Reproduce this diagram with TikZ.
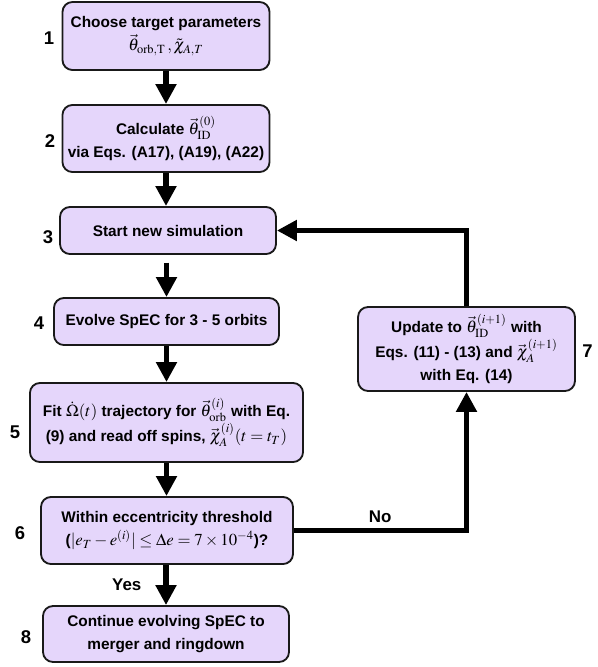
\documentclass[tikz,border=0pt]{standalone}
\usepackage{amsmath,amssymb}
\usepackage{mathptmx}
\usepackage{fontspec}
\setmainfont{Liberation Serif}
\setsansfont{Liberation Sans}
\usepackage{tikz}
\usetikzlibrary{arrows.meta}

\newcommand{\mth}[1]{{\fontsize{10.9}{15}\selectfont$#1$}}
\definecolor{boxfill}{RGB}{229,214,251}
\tikzset{
    stepbox/.style={draw=black!90, line width=1.2pt, fill=boxfill, rounded corners=6.5pt,
        align=center, inner sep=1.5pt, font=\sffamily\bfseries\fontsize{10}{15}\selectfont},
    stepnum/.style={font=\sffamily\bfseries\fontsize{12}{14}\selectfont},
    flow/.style={line width=3.3pt, -{Triangle[length=13pt,width=13pt]}},
    flowlabel/.style={font=\sffamily\bfseries\fontsize{11}{13}\selectfont}
}

\begin{document}
\begin{tikzpicture}[x=0.65pt, y=-0.65pt]
    \useasboundingbox (0,0) rectangle (598,667);

    % steps
    \node[stepbox, minimum width=134.6pt, minimum height=44.2pt] (choose) at (166,36)
        {Choose target parameters\\ \mth{\vec{\theta}_{\mathrm{orb,T}}\,,\tilde{\chi}_{A,T}}};
    \node[stepbox, minimum width=134.6pt, minimum height=43.6pt] (calc) at (166,138.5)
        {Calculate \mth{\vec{\theta}^{(0)}_{\mathrm{ID}}}\\ via Eqs. (A17), (A19), (A22)};
    \node[stepbox, minimum width=140.4pt, minimum height=30.6pt] (start) at (168,230.5)
        {Start new simulation};
    \node[stepbox, minimum width=146.3pt, minimum height=30.6pt] (evolve) at (166.5,321.5)
        {Evolve SpEC for 3 - 5 orbits};
    \node[stepbox, minimum width=177.5pt, minimum height=51.4pt] (fit) at (166.5,422.5)
        {Fit \mth{\dot{\Omega}(t)} trajectory for \mth{\vec{\theta}^{(i)}_{\mathrm{orb}}} with Eq.\\
         (9) and read off spins, \mth{\vec{\chi}^{(i)}_A(t=t_T)}};
    \node[stepbox, minimum width=163.8pt, minimum height=43.6pt] (check) at (167,530.5)
        {Within eccentricity threshold\\ (\mth{|e_T-e^{(i)}|\le\Delta e=7\times10^{-4}})?};
    \node[stepbox, minimum width=159.9pt, minimum height=36.4pt] (merge) at (166,634)
        {Continue evolving SpEC to\\ merger and ringdown};
    \node[stepbox, minimum width=141pt, minimum height=54.6pt] (update) at (466.5,349)
        {Update to \mth{\vec{\theta}^{(i+1)}_{\mathrm{ID}}} with\\
         Eqs. (11) - (13) and \mth{\vec{\chi}^{(i+1)}_A}\\ with Eq. (14)};

    % numbers
    \node[stepnum] (num1) at (49,38) {1};
    \node[stepnum] (num2) at (50,141) {2};
    \node[stepnum] (num3) at (48,237) {3};
    \node[stepnum] (num4) at (39,323) {4};
    \node[stepnum] (num5) at (15,432) {5};
    \node[stepnum] (num6) at (20,533) {6};
    \node[stepnum] (num7) at (587.5,351) {7};
    \node[stepnum] (num8) at (26,637) {8};

    % arrows
    \draw[flow] (choose.south) -- (calc.north);
    \draw[flow] (calc.south) -- (calc.south |- start.north);
    \draw[flow, shorten <=5pt] (start.south -| evolve) -- (evolve.north);
    \draw[flow] (evolve.south) -- (fit.north);
    \draw[flow] (fit.south) -- (fit.south |- check.north);
    \draw[flow] (check.south -| merge) -- (merge.north)
        node[flowlabel, midway, left=11pt] {Yes};
    \draw[flow] (check.east) -| (update.south)
        node[flowlabel, pos=0.25, above] {No};
    \draw[flow] (update.north) |- (start.east);

\end{tikzpicture}
\end{document}
